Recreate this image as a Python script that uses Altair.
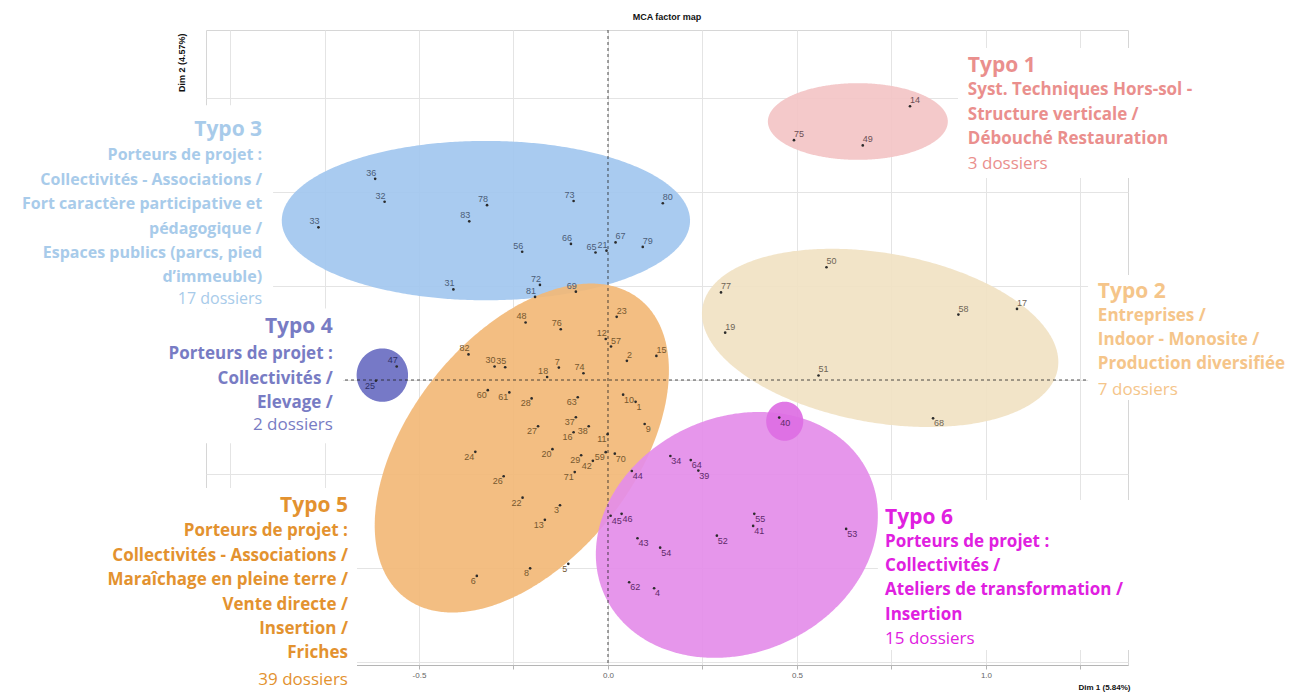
import altair as alt
import numpy as np
import pandas as pd

# ---------------- individuals (MCA coordinates) ----------------
point_id = [14, 75, 49,
            50, 77, 19, 58, 17, 51, 68,
            36, 32, 33, 78, 83, 73, 80, 56, 66, 65, 21, 67, 79, 31, 72, 81, 69,
            47, 25,
            48, 76, 23, 12, 57, 82, 30, 35, 7, 18, 74, 2, 15, 60, 61, 28, 63, 10, 1,
            37, 27, 16, 38, 11, 9, 24, 20, 29, 42, 59, 70, 71, 26, 22, 3, 13, 6, 8, 5,
            40, 34, 64, 39, 44, 55, 41, 52, 53, 43, 54, 62, 4, 45, 46]
dim1 = [0.799, 0.492, 0.674,
        0.578, 0.299, 0.310, 0.927, 1.082, 0.557, 0.860,
        -0.616, -0.591, -0.766, -0.320, -0.367, -0.091, 0.145, -0.227, -0.098, -0.033,
        -0.004, 0.020, 0.092, -0.409, -0.180, -0.193, -0.085,
        -0.559, -0.614,
        -0.218, -0.125, 0.023, -0.006, 0.008, -0.369, -0.300, -0.272, -0.130, -0.161,
        -0.065, 0.050, 0.128, -0.318, -0.261, -0.202, -0.080, 0.040, 0.073,
        -0.085, -0.185, -0.091, -0.051, -0.001, 0.097, -0.351, -0.147, -0.071, -0.040,
        -0.006, 0.018, -0.088, -0.276, -0.226, -0.127, -0.167, -0.347, -0.206, -0.105,
        0.453, 0.165, 0.219, 0.239, 0.063, 0.387, 0.384, 0.288, 0.630, 0.078, 0.138,
        0.056, 0.122, 0.007, 0.036]
dim2 = [0.728, 0.638, 0.624,
        0.300, 0.233, 0.126, 0.174, 0.189, 0.012, -0.102,
        0.535, 0.474, 0.406, 0.465, 0.422, 0.476, 0.470, 0.341, 0.362, 0.339,
        0.344, 0.366, 0.354, 0.241, 0.253, 0.221, 0.235,
        0.036, -0.002,
        0.153, 0.135, 0.168, 0.109, 0.089, 0.068, 0.036, 0.034, 0.033, 0.008,
        0.018, 0.051, 0.064, -0.027, -0.033, -0.049, -0.046, -0.039, -0.058,
        -0.099, -0.123, -0.139, -0.123, -0.144, -0.117, -0.191, -0.184, -0.200, -0.215,
        -0.192, -0.196, -0.245, -0.256, -0.313, -0.333, -0.372, -0.521, -0.501, -0.489,
        -0.100, -0.202, -0.213, -0.241, -0.242, -0.356, -0.388, -0.414, -0.396, -0.421,
        -0.446, -0.538, -0.554, -0.361, -0.356]
typo = (["Typo 1"] * 3 + ["Typo 2"] * 7 + ["Typo 3"] * 17 + ["Typo 4"] * 2
        + ["Typo 5"] * 39 + ["Typo 6"] * 15)
# side of the dot where the number is written (UL/UR/BL/BR)
label_side = (["UR"] * 3
              + ["UR"] * 6 + ["BR"]
              + ["UL"] * 6 + ["UR"] + ["UL"] * 4 + ["UR", "UR"] + ["UL"] * 4
              + ["UL", "BL"]
              + ["UL", "UL", "UR", "UL", "UR", "UL", "UL", "UL", "UL", "UL", "UL", "UR", "UR",
                 "BL", "BL", "BL", "BL", "BR", "BR",
                 "BL", "BL", "BL", "BL", "BL", "BR", "BL", "BL", "BL", "BL", "BL", "BR",
                 "BL", "BL", "BL", "BL", "BL", "BL", "BL", "BL"]
              + ["BR"] * 15)

# ---------------- group envelopes (centre, semi-axes, tilt in degrees) ----------------
env_name = ["Typo 3", "Typo 2", "Typo 1", "Typo 5", "Typo 6", "40", "Typo 4"]
env_cx = [-0.323, 0.720, 0.661, -0.228, 0.341, 0.4675, -0.597]
env_cy = [0.424, 0.112, 0.6875, -0.181, -0.412, -0.1096, 0.013]
env_a = [0.540, 0.477, 0.238, 0.504, 0.385, 0.049, 0.068]
env_b = [0.212, 0.2255, 0.102, 0.298, 0.313, 0.052, 0.071]
env_angle = [0, -10, 0, 52, 25, 0, 0]
env_fill = ["#a2c7ef", "#f1e2c3", "#f3c4c6", "#f2b877", "#e48de9", "#dd6ee3", "#6a6ec2"]

# ---------------- annotation texts ----------------
ann_typo = ["Typo 1", "Typo 2", "Typo 3", "Typo 4", "Typo 5", "Typo 6"]
ann_body = [
    "Syst. Techniques Hors-sol -\nStructure verticale /\nDébouché Restauration",
    "Entreprises /\nIndoor - Monosite /\nProduction diversifiée",
    "Porteurs de projet :\nCollectivités - Associations /\nFort caractère participative et\npédagogique /\nEspaces publics (parcs, pied\nd\u2019immeuble)",
    "Porteurs de projet :\nCollectivités /\nElevage /",
    "Porteurs de projet :\nCollectivités - Associations /\nMaraîchage en pleine terre /\nVente directe /\nInsertion /\nFriches",
    "Porteurs de projet :\nCollectivités /\nAteliers de transformation /\nInsertion",
]
ann_count = ["3 dossiers", "7 dossiers", "17 dossiers", "2 dossiers", "39 dossiers", "15 dossiers"]
ann_color = ["#ea8f8d", "#f5c58a", "#a8cbea", "#787cc4", "#e3922f", "#e020e0"]
label_color = {"Typo 1": "#6b4f55", "Typo 2": "#6e6456", "Typo 3": "#4b5d78",
               "Typo 4": "#2e2f66", "Typo 5": "#76582f", "Typo 6": "#5e2a6a"}

# layout of the annotation blocks (data units), alignment side, body font size
ann_x = [0.952, 1.296, -0.915, -0.728, -0.688, 0.733]
ann_y_title = [0.818, 0.219, 0.650, 0.124, -0.352, -0.382]
ann_y_body = [0.757, 0.158, 0.584, 0.055, -0.416, -0.443]
ann_y_count = [0.560, -0.039, 0.203, -0.134, -0.8125, -0.701]
ann_side = ["left", "left", "right", "right", "right", "left"]
ann_fs = [17, 17, 16, 17, 17, 17]

# white boxes behind the annotation blocks (data units)
box_x = [-1.8, -1.8, -1.8, 0.926, 1.27, 0.714]
box_x2 = [-0.886, -0.701, -0.664, 1.8, 1.8, 1.45]
box_y = [0.731, 0.19, -0.287, 0.883, 0.279, -0.319]
box_y2 = [0.19, -0.168, -0.95, 0.537, -0.053, -0.718]

# ---------------- scales / axes ----------------
XDOM = [-1.0635, 1.3757]
YDOM = [-0.758, 0.9309]
W, H = 922, 635

xscale = alt.Scale(domain=XDOM, nice=False, zero=False)
yscale = alt.Scale(domain=YDOM, nice=False, zero=False)
xaxis = alt.Axis(
    values=[-1.0, -0.75, -0.5, -0.25, 0.0, 0.25, 0.5, 0.75, 1.0, 1.25],
    labelExpr="datum.value % 0.5 == 0 ? replace(format(datum.value, '.1f'), '\u2212', '-') : ''",
    grid=True, gridColor="#e4e4e4", gridWidth=1,
    domainColor="#b5b5b5", tickColor="#b5b5b5", tickSize=4,
    labelFontSize=8, labelColor="#666666", labelFont="Liberation Sans", labelPadding=2,
    title="Dim 1 (5.84%)", titleFontSize=8, titleFontWeight="bold", titleFont="Liberation Sans",
    titleColor="#111111", titleX=W + 2, titleY=22, titleAlign="right", titleBaseline="middle",
    zindex=0,
)
yaxis = alt.Axis(
    values=[-0.75, -0.5, -0.25, 0.0, 0.25, 0.5, 0.75],
    labels=False, ticks=False, domain=False,
    grid=True, gridColor="#e4e4e4", gridWidth=1,
    title="Dim 2 (4.57%)", titleFontSize=9, titleFontWeight="bold", titleFont="Liberation Sans",
    titleColor="#111111", titleX=-25, titleY=3, titleAngle=270, titleAlign="right",
    titleBaseline="middle", zindex=0,
)


def X(field):
    return alt.X(f"{field}:Q", scale=xscale, axis=xaxis)


def Y(field):
    return alt.Y(f"{field}:Q", scale=yscale, axis=yaxis)


def ellipse_band(cx, cy, a, b, ang, n=260):
    t = np.deg2rad(ang)
    c, s = np.cos(t), np.sin(t)
    A = c ** 2 / a ** 2 + s ** 2 / b ** 2
    B = 2 * c * s * (1 / a ** 2 - 1 / b ** 2)
    C = s ** 2 / a ** 2 + c ** 2 / b ** 2
    half = np.sqrt(a ** 2 * c ** 2 + b ** 2 * s ** 2)
    u = -half * np.cos(np.linspace(0, np.pi, n))
    disc = np.clip(B ** 2 * u ** 2 - 4 * C * (A * u ** 2 - 1), 0, None)
    lo = (-B * u - np.sqrt(disc)) / (2 * C)
    hi = (-B * u + np.sqrt(disc)) / (2 * C)
    return pd.DataFrame({"x": cx + u, "y": cy + lo, "y2": cy + hi})


layers = []

# envelopes
for i in range(len(env_name)):
    band = ellipse_band(env_cx[i], env_cy[i], env_a[i], env_b[i], env_angle[i])
    layers.append(
        alt.Chart(band).mark_area(color=env_fill[i], opacity=0.92)
        .encode(x=X("x"), y=Y("y"), y2="y2")
    )

# dashed zero lines
layers.append(
    alt.Chart(pd.DataFrame({"x": [0.0]})).mark_rule(color="#222222", strokeDash=[3, 3], strokeWidth=0.8)
    .encode(x=X("x"))
)
layers.append(
    alt.Chart(pd.DataFrame({"y": [0.0]})).mark_rule(color="#222222", strokeDash=[3, 3], strokeWidth=0.8)
    .encode(y=Y("y"))
)

# points
pts = pd.DataFrame({"id": [str(v) for v in point_id], "x": dim1, "y": dim2,
                    "typo": typo, "side": label_side})
pts["labcol"] = pts["typo"].map(label_color)
layers.append(
    alt.Chart(pts).mark_circle(size=7, opacity=1, color="#2b2b2b").encode(x=X("x"), y=Y("y"))
)
side_style = {
    "UL": dict(align="right", baseline="bottom", dx=1, dy=-1),
    "UR": dict(align="left", baseline="bottom", dx=0, dy=-1),
    "BL": dict(align="right", baseline="top", dx=-1, dy=1),
    "BR": dict(align="left", baseline="top", dx=1, dy=1),
}
for side, st in side_style.items():
    layers.append(
        alt.Chart(pts).transform_filter(alt.datum.side == side)
        .mark_text(font="Liberation Sans", fontSize=9, **st)
        .encode(x=X("x"), y=Y("y"), text="id:N", color=alt.Color("labcol:N", scale=None))
    )

# white boxes of the annotation blocks
boxes = pd.DataFrame({"x": box_x, "x2": box_x2, "y": box_y, "y2": box_y2})
layers.append(
    alt.Chart(boxes).mark_rect(color="white", opacity=1)
    .encode(x=X("x"), x2="x2", y=Y("y"), y2="y2")
)

# annotation texts
ann = pd.DataFrame({"typo": ann_typo, "body": ann_body, "count": ann_count, "x": ann_x,
                    "yt": ann_y_title, "yb": ann_y_body, "yc": ann_y_count, "side": ann_side,
                    "col": ann_color, "fs": ann_fs})
color_ann = alt.Color("col:N", scale=None)
size_ann = alt.Size("fs:Q", scale=None, legend=None)
FONT = "Open Sans"
for side in ["left", "right"]:
    base = alt.Chart(ann).transform_filter(alt.datum.side == side)
    layers.append(
        base.mark_text(font=FONT, fontSize=21, fontWeight="bold", align=side, baseline="alphabetic")
        .encode(x=X("x"), y=Y("yt"), text="typo:N", color=color_ann)
    )
    layers.append(
        base.mark_text(font=FONT, fontWeight="bold", align=side, baseline="alphabetic",
                       lineBreak="\n", lineHeight=24.4)
        .encode(x=X("x"), y=Y("yb"), text="body:N", color=color_ann, size=size_ann)
    )
    layers.append(
        base.mark_text(font=FONT, fontWeight="normal", align=side, baseline="alphabetic")
        .encode(x=X("x"), y=Y("yc"), text="count:N", color=color_ann, size=size_ann)
    )

chart = (
    alt.layer(*layers)
    .properties(
        width=W, height=H,
        title=alt.TitleParams("MCA factor map", fontSize=9, fontWeight="bold", font="Liberation Sans",
                              color="#111111", offset=8, anchor="middle"),
        padding={"left": 206, "top": 30, "right": 167, "bottom": 27},
        autosize=alt.AutoSizeParams(type="none"),
        background="white",
    )
    .configure_view(stroke="#d6d6d6", strokeWidth=1)
)

chart.save("out.html", embed_options={"renderer": "svg", "actions": False})
